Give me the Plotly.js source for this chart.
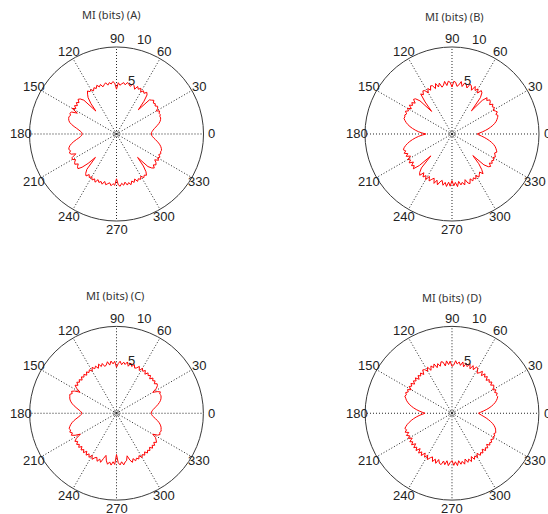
<!DOCTYPE html>
<html>
<head>
<meta charset="utf-8">
<script src="https://cdn.plot.ly/plotly-3.0.1.min.js"></script>
<style>html,body{margin:0;padding:0;background:#fff;}#chart{width:548px;height:514px;}</style>
</head>
<body>
<div id="chart"></div>
<script>
// ---- data ----
var panelTitles = ['MI (bits) (A)', 'MI (bits) (B)', 'MI (bits) (C)', 'MI (bits) (D)'];
var angleStepDeg = 2; // samples every 2 degrees, 0..358
var angleTicks = [0, 30, 60, 90, 120, 150, 180, 210, 240, 270, 300, 330];
var angleTickLabels = ['0', '30', '60', '90', '120', '150', '180', '210', '240', '270', '300', '330'];
var radialTicks = [5, 10];
var radialTickLabels = ['5', '10'];

var miA = [4.00,4.02,4.10,4.22,4.38,4.58,4.80,5.02,5.20,5.32,5.40,5.38,5.50,5.44,5.62,5.30,5.58,5.70,5.48,5.66,
 5.52,5.78,5.60,5.45,3.75,4.90,5.70,5.92,5.64,5.85,5.58,5.95,5.72,5.98,5.55,5.90,6.02,5.70,5.88,6.05,
 5.74,5.96,5.80,5.62,5.90,5.15,5.85,6.04,5.78,5.96,5.70,6.02,5.84,5.64,5.98,5.76,6.04,5.72,5.92,5.62,
 5.88,5.74,5.96,5.66,5.30,4.60,3.55,5.40,5.80,5.95,5.62,5.86,5.55,5.82,5.50,5.88,5.10,5.78,5.85,5.70,
 5.82,5.78,5.70,5.55,5.28,4.95,4.62,4.34,4.12,3.99,3.95,4.00,4.14,4.36,4.66,4.98,5.28,5.52,5.68,5.76,
 5.62,5.84,5.70,5.20,5.78,5.86,5.55,5.80,5.92,5.58,5.85,5.96,5.50,4.70,3.62,5.30,5.75,5.96,5.62,5.90,
 5.68,5.98,5.74,6.06,5.66,5.92,5.74,6.00,5.62,5.96,5.80,5.66,5.98,5.72,5.90,5.15,5.84,6.02,5.70,5.94,
 5.62,6.00,5.76,6.06,5.68,5.92,5.58,5.96,5.72,5.90,5.60,5.92,5.70,5.86,5.50,4.80,3.62,5.20,5.62,5.84,
 5.52,5.76,5.60,5.30,5.70,5.45,5.66,5.40,5.58,5.46,5.50,5.42,5.30,5.14,4.94,4.72,4.50,4.30,4.14,4.04];

var miB = [2.90,3.15,3.50,3.85,4.18,4.50,4.80,5.06,5.28,5.44,5.58,5.70,5.52,5.80,5.64,5.45,5.76,5.58,5.82,5.48,
 5.74,5.86,5.55,5.80,5.20,3.48,5.30,5.85,6.02,5.55,5.98,5.66,6.08,5.50,5.95,6.10,5.56,5.92,6.04,5.58,
 6.12,5.70,5.50,5.96,6.06,5.40,5.94,6.08,5.60,6.10,5.68,5.50,6.02,5.62,6.10,5.55,5.98,6.06,5.60,5.92,
 5.45,5.88,5.98,5.58,5.84,4.80,3.50,5.30,5.82,5.95,5.52,5.86,5.60,5.92,5.50,5.90,5.66,5.96,5.70,5.85,
 5.76,5.80,5.62,5.42,5.18,4.90,4.58,4.24,3.88,3.46,3.00,3.42,3.84,4.22,4.58,4.92,5.22,5.50,5.72,5.88,
 5.66,5.92,5.55,5.86,5.40,5.84,5.62,5.94,5.48,5.90,5.66,5.98,5.20,3.50,5.25,5.78,6.02,5.50,5.96,5.64,
 6.06,5.52,6.00,5.70,5.48,6.04,5.58,6.08,5.66,5.45,5.98,5.62,6.06,5.55,6.00,5.35,5.96,5.58,6.08,5.50,
 5.94,5.68,6.04,5.46,5.92,6.06,5.56,5.90,5.60,5.86,5.48,5.84,5.62,5.40,5.80,5.30,4.60,3.45,5.10,5.62,
 5.80,5.44,5.72,5.50,5.68,5.42,5.64,5.50,5.36,5.56,5.44,5.30,5.14,4.92,4.66,4.36,4.04,3.72,3.40,3.10];

var miC = [4.00,4.03,4.12,4.26,4.45,4.66,4.88,5.08,5.26,5.38,5.46,5.52,5.44,5.62,5.30,4.82,5.40,5.68,5.78,5.52,
 5.80,5.60,5.84,5.50,5.86,5.66,5.90,5.56,5.94,5.70,5.96,5.58,6.00,5.72,5.60,5.98,5.66,6.02,5.58,6.04,
 5.70,5.94,5.62,6.00,5.72,5.30,5.98,5.70,6.04,5.60,6.02,5.68,5.55,5.96,5.66,6.02,5.58,5.94,5.70,5.98,
 5.60,5.90,5.66,5.88,5.56,5.84,5.60,5.82,5.50,5.78,5.56,5.80,5.48,5.76,5.40,4.85,5.45,5.76,5.58,5.80,
 5.72,5.66,5.56,5.40,5.20,4.96,4.70,4.45,4.22,4.06,4.00,4.06,4.22,4.45,4.72,5.00,5.24,5.44,5.60,5.74,
 5.62,5.80,5.56,5.78,5.40,4.80,5.44,5.78,5.52,5.82,5.58,5.86,5.52,5.88,5.62,5.92,5.55,5.96,5.64,5.98,
 5.60,6.00,5.70,5.56,5.96,5.62,5.94,5.40,5.00,5.60,5.96,5.66,6.00,5.60,5.90,4.75,5.70,5.96,5.62,6.00,
 5.70,5.58,5.05,5.62,5.94,5.56,5.90,5.66,5.86,5.52,5.88,5.60,5.82,5.50,5.80,5.56,5.76,5.46,5.78,5.52,
 5.74,5.44,5.70,5.50,5.30,4.82,5.36,5.58,5.44,5.54,5.46,5.40,5.30,5.16,4.98,4.76,4.54,4.32,4.14,4.04];

var miD = [3.05,3.30,3.62,3.96,4.30,4.60,4.88,5.12,5.32,5.48,5.60,5.52,5.70,5.46,5.74,5.40,5.68,5.80,5.50,5.84,
 5.56,5.78,5.46,5.86,5.60,5.92,5.50,5.96,5.62,5.44,5.94,6.04,5.58,6.00,5.52,6.06,5.64,5.98,5.50,6.04,
 5.60,5.96,5.70,6.06,5.55,5.40,6.00,5.62,6.06,5.50,5.98,6.06,5.58,5.94,5.52,6.04,5.66,5.96,5.50,6.00,
 5.60,5.92,6.02,5.52,5.88,5.60,5.84,5.44,5.86,5.56,5.80,5.46,5.84,5.58,5.82,5.42,5.80,5.60,5.84,5.66,
 5.78,5.60,5.46,5.26,5.04,4.76,4.46,4.14,3.80,3.44,3.10,3.44,3.80,4.14,4.46,4.76,5.04,5.30,5.52,5.70,
 5.56,5.82,5.44,5.84,5.52,5.80,5.40,5.86,5.58,5.90,5.46,5.92,5.62,5.96,5.48,5.98,5.64,6.02,5.52,5.96,
 5.60,6.04,5.70,5.50,6.00,5.62,6.06,5.54,5.96,6.04,5.58,5.98,5.50,6.04,5.66,5.45,6.00,5.60,6.06,5.52,
 5.96,5.66,6.04,5.48,5.94,5.62,6.00,5.46,5.90,5.58,5.86,5.44,5.84,5.60,5.80,5.40,5.78,5.52,5.74,5.36,
 5.70,5.50,5.66,5.40,5.62,5.44,5.58,5.36,5.52,5.42,5.34,5.20,5.02,4.80,4.54,4.26,3.98,3.70,3.44,3.22];

var series = [miA, miB, miC, miD];

// ---- layout / style ----
var domains = [
  {x: [0.0538, 0.3714], y: [0.570, 0.9086]},
  {x: [0.6660, 0.9836], y: [0.570, 0.9086]},
  {x: [0.0538, 0.3714], y: [0.027, 0.365]},
  {x: [0.6660, 0.9836], y: [0.027, 0.365]}
];
var titlePos = [[0.203, 0.972], [0.830, 0.967], [0.210, 0.426], [0.825, 0.422]];
var labelFont = {family: 'Liberation Sans, Arial, sans-serif', size: 13, color: '#222'};
var rMax = 10;

var traces = [];
var layout = {
  width: 548, height: 514,
  margin: {l: 0, r: 0, t: 0, b: 0},
  paper_bgcolor: '#fff',
  showlegend: false,
  hovermode: false,
  annotations: []
};

// paper position of a polar point (r, theta) in a panel, used for MATLAB-style labels
function paperPos(dom, r, thetaDeg) {
  var cx = (dom.x[0] + dom.x[1]) / 2, cy = (dom.y[0] + dom.y[1]) / 2;
  var rx = (dom.x[1] - dom.x[0]) / 2, ry = (dom.y[1] - dom.y[0]) / 2;
  var t = thetaDeg * Math.PI / 180;
  return [cx + rx * (r / rMax) * Math.cos(t), cy + ry * (r / rMax) * Math.sin(t)];
}

series.forEach(function (vals, k) {
  var name = k === 0 ? 'polar' : 'polar' + (k + 1);
  var r = vals.slice(); r.push(vals[0]);
  var th = r.map(function (_, i) { return i * angleStepDeg; });
  traces.push({
    type: 'scatterpolar', subplot: name, mode: 'lines',
    r: r, theta: th, line: {color: '#ff0000', width: 1}
  });
  // small centre circle
  traces.push({
    type: 'scatterpolar', subplot: name, mode: 'markers',
    r: [0], theta: [0],
    marker: {symbol: 'circle-open', size: 5, color: '#8a8a8a', line: {width: 1}}
  });
  layout[name] = {
    domain: domains[k],
    bgcolor: 'rgba(0,0,0,0)',
    angularaxis: {
      rotation: 0, direction: 'counterclockwise',
      tickmode: 'array', tickvals: angleTicks, ticktext: angleTickLabels,
      showticklabels: false,
      ticks: '', showgrid: true, gridcolor: '#222', gridwidth: 1, griddash: '1px,2px',
      showline: true, linecolor: '#3a3a3a', linewidth: 1
    },
    radialaxis: {
      range: [0, rMax], showgrid: false, showline: false,
      showticklabels: false, ticks: ''
    }
  };
  // angular labels centred on a ring just outside the circle
  angleTicks.forEach(function (a, i) {
    var p = paperPos(domains[k], rMax * 1.095, a);
    layout.annotations.push({
      xref: 'paper', yref: 'paper', x: p[0], y: p[1],
      xanchor: 'center', yanchor: 'middle', showarrow: false,
      text: angleTickLabels[i], font: labelFont
    });
  });
  // radial labels
  radialTicks.forEach(function (v, i) {
    var p = paperPos(domains[k], v + 1.35, 74);
    layout.annotations.push({
      xref: 'paper', yref: 'paper', x: p[0], y: p[1],
      xanchor: 'center', yanchor: 'middle', showarrow: false,
      text: radialTickLabels[i], font: labelFont
    });
  });
  layout.annotations.push({
    xref: 'paper', yref: 'paper', x: titlePos[k][0], y: titlePos[k][1],
    xanchor: 'center', yanchor: 'middle', showarrow: false,
    text: panelTitles[k],
    font: {family: 'Noto Sans, DejaVu Sans, sans-serif', size: 11, color: '#333'}
  });
});

Plotly.newPlot('chart', traces, layout, {displayModeBar: false, staticPlot: true});
</script>
</body>
</html>
